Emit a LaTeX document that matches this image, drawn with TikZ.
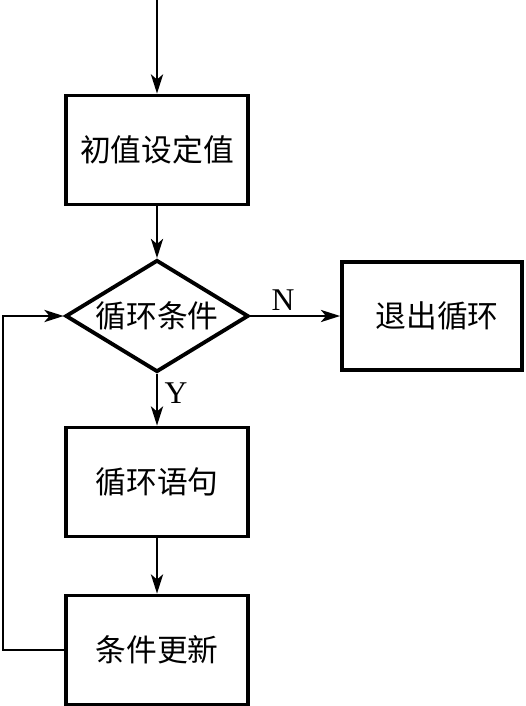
\documentclass[tikz,border=0pt]{standalone}
\usepackage{fontspec}
\setmainfont{Liberation Serif}
\newfontfamily\cjk{Noto Sans CJK SC}
\usetikzlibrary{arrows.meta,shapes.geometric}

\begin{document}
\begin{tikzpicture}[
box/.style={
draw,
line width=2.2pt,
align=center,
inner sep=0pt,
minimum width=3.64cm,
minimum height=2.18cm,
font=\cjk\fontsize{17.5}{20}\selectfont
},
decision/.style={
draw,
diamond,
aspect=1.63,
line width=2.2pt,
inner sep=0pt,
minimum width=3.66cm,
minimum height=2.24cm,
font=\cjk\fontsize{17.5}{20}\selectfont
},
lab/.style={
font=\fontsize{18}{20}\selectfont
},
flow/.style={
line width=0.8pt,
-{Stealth[length=11pt,width=7pt,inset=3pt]}
}
]

\useasboundingbox (0,0) rectangle (10.52,-14.12);

\coordinate (start) at (3.14,0);

\node[box] (init) at (3.14,-3.0)
{初值设定值};

\node[decision] (cond) at (3.14,-6.32)
{循环条件};

\node[box, minimum width=3.6cm, minimum height=2.16cm] (exit) at (8.64,-6.32)
{\hspace{0.2cm}退出循环};

\node[box] (body) at (3.14,-9.64)
{循环语句};

\node[box] (upd) at (3.14,-13.0)
{条件更新};

\coordinate (back) at (0.06,-6.32);

\node[lab] (no) at (5.66,-6.0) {N};
\node[lab] (yes) at (3.52,-7.86) {Y};

\draw[flow] (start) -- (init);
\draw[flow] (init) -- (cond);
\draw[flow] (cond) -- (exit);
\draw[flow] (cond) -- (body);
\draw[flow] (body) -- (upd);
\draw[flow] (upd.west) -| (back) -- (cond.west);

\end{tikzpicture}
\end{document}
